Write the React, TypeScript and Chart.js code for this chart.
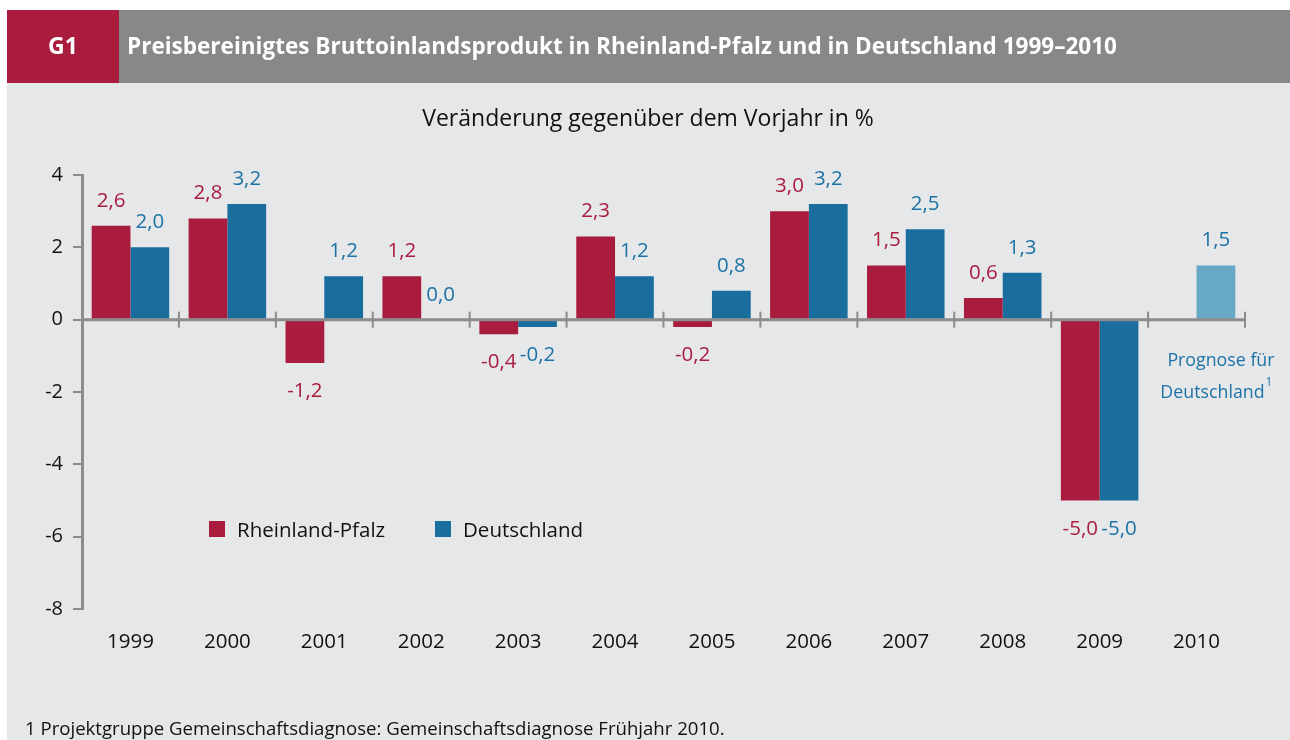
import { useEffect, useRef } from 'react';
import { Chart, registerables } from 'chart.js';

Chart.register(...registerables);

const years = ['1999', '2000', '2001', '2002', '2003', '2004', '2005', '2006', '2007', '2008', '2009', '2010'];
const rheinlandPfalz: (number | null)[] = [2.6, 2.8, -1.2, 1.2, -0.4, 2.3, -0.2, 3.0, 1.5, 0.6, -5.0, null];
const deutschland: number[] = [2.0, 3.2, 1.2, 0.0, -0.2, 1.2, 0.8, 3.2, 2.5, 1.3, -5.0, 1.5];
const yMin = -8;
const yMax = 4;
const yStep = 2;

const headerCode = 'G1';
const headerTitle = 'Preisbereinigtes Bruttoinlandsprodukt in Rheinland-Pfalz und in Deutschland 1999–2010';
const subTitle = 'Veränderung gegenüber dem Vorjahr in %';
const forecastLines = ['Prognose für', 'Deutschland'];
const footnote = '1 Projektgruppe Gemeinschaftsdiagnose: Gemeinschaftsdiagnose Frühjahr 2010.';

const RED = '#a91c3e';
const BLUE = '#196e9e';
const LIGHT_BLUE = '#66a8c5';
const BLUE_TEXT = '#1d73a6';
const AXIS = '#8c8c8c';
const BG = '#e6e7e9';
const HEADER_GRAY = '#87888a';
const FONT = '"Open Sans", "Noto Sans", sans-serif';

const fmt = (v: number) => v.toFixed(1).replace('.', ',');

const decorPlugin = {
  id: 'decor',
  beforeDraw(chart: any) {
    const ctx = chart.ctx;
    ctx.save();
    ctx.fillStyle = '#ffffff';
    ctx.fillRect(0, 0, chart.width, chart.height);
    ctx.fillStyle = BG;
    ctx.fillRect(7, 83, chart.width - 7, chart.height - 83);
    ctx.fillStyle = RED;
    ctx.fillRect(7, 10, 112, 73);
    ctx.fillStyle = HEADER_GRAY;
    ctx.fillRect(119, 10, chart.width - 119, 73);

    ctx.fillStyle = '#ffffff';
    ctx.font = `bold 23px ${FONT}`;
    ctx.textBaseline = 'alphabetic';
    ctx.textAlign = 'center';
    ctx.fillText(headerCode, 63, 54);
    ctx.textAlign = 'left';
    const w = ctx.measureText(headerTitle).width;
    const target = 990;
    ctx.save();
    ctx.translate(127, 54);
    ctx.scale(target / w, 1);
    ctx.fillText(headerTitle, 0, 0);
    ctx.restore();

    ctx.fillStyle = '#111111';
    ctx.font = `23px ${FONT}`;
    ctx.textAlign = 'center';
    ctx.fillText(subTitle, 648, 126);

    ctx.font = `18.6px ${FONT}`;
    ctx.textAlign = 'left';
    ctx.fillText(footnote, 25, 735);
    ctx.restore();
  },
};

const axisPlugin = {
  id: 'zeroAxis',
  afterDatasetsDraw(chart: any) {
    const ctx = chart.ctx;
    const xs = chart.scales.x;
    const ys = chart.scales.y;
    const area = chart.chartArea;
    const y0 = ys.getPixelForValue(0);
    ctx.save();
    ctx.strokeStyle = AXIS;
    ctx.lineWidth = 3;
    ctx.beginPath();
    ctx.moveTo(area.left, y0);
    ctx.lineTo(area.right, y0);
    ctx.stroke();
    ctx.lineWidth = 2;
    const n = years.length;
    for (let i = 1; i <= n; i++) {
      const x = i === n ? area.right : (xs.getPixelForValue(i - 1) + xs.getPixelForValue(i)) / 2;
      ctx.beginPath();
      ctx.moveTo(x, y0 - 8);
      ctx.lineTo(x, y0 + 8);
      ctx.stroke();
    }
    ctx.restore();
  },
};

const labelPlugin = {
  id: 'valueLabels',
  afterDatasetsDraw(chart: any) {
    const ctx = chart.ctx;
    ctx.save();
    ctx.font = `20.5px ${FONT}`;
    ctx.textAlign = 'center';
    ctx.textBaseline = 'alphabetic';
    chart.data.datasets.forEach((ds: any, di: number) => {
      const meta = chart.getDatasetMeta(di);
      meta.data.forEach((el: any, j: number) => {
        const v = ds.data[j];
        if (v === null || v === undefined) return;
        ctx.fillStyle = ds.labelColor;
        const y = v >= 0 ? el.y - 19 : el.y + 34;
        ctx.fillText(fmt(v), el.x, y);
      });
    });

    // legend
    const area = chart.chartArea;
    const lx = area.left + 127;
    ctx.textAlign = 'left';
    ctx.font = `20.5px ${FONT}`;
    const items = chart.data.datasets.map((ds: any) => ({ label: ds.label, color: ds.legendColor }));
    const offsets = [0, 226];
    items.forEach((it: any, k: number) => {
      const x = lx + offsets[k];
      ctx.fillStyle = it.color;
      ctx.fillRect(x, 521, 16, 16);
      ctx.fillStyle = '#111111';
      ctx.fillText(it.label, x + 28, 537);
    });

    // forecast note
    const xs = chart.scales.x;
    const xc = xs.getPixelForValue(years.length - 1);
    ctx.fillStyle = BLUE_TEXT;
    ctx.font = `17.8px ${FONT}`;
    ctx.textAlign = 'right';
    ctx.fillText(forecastLines[0], xc + 78, 366);
    ctx.fillText(forecastLines[1], xc + 68, 398);
    ctx.font = `12px ${FONT}`;
    ctx.textAlign = 'left';
    ctx.fillText('1', xc + 69, 386);
    ctx.restore();
  },
};

export default function App() {
  const ref = useRef<HTMLCanvasElement | null>(null);
  useEffect(() => {
    if (!ref.current) return;
    const chart = new Chart(ref.current, {
      type: 'bar',
      data: {
        labels: years,
        datasets: [
          {
            label: 'Rheinland-Pfalz',
            data: rheinlandPfalz,
            backgroundColor: RED,
            labelColor: RED,
            legendColor: RED,
          } as any,
          {
            label: 'Deutschland',
            data: deutschland,
            backgroundColor: deutschland.map((_, i) => (i === years.length - 1 ? LIGHT_BLUE : BLUE)),
            labelColor: BLUE_TEXT,
            legendColor: BLUE,
          } as any,
        ],
      },
      options: {
        animation: false,
        responsive: false,
        devicePixelRatio: 1,
        layout: { padding: { top: 175, right: 45, bottom: 0, left: 0 } },
        datasets: { bar: { categoryPercentage: 0.8, barPercentage: 1.0 } },
        plugins: { legend: { display: false }, title: { display: false }, tooltip: { enabled: false } },
        scales: {
          x: {
            grid: { display: false, drawTicks: false },
            border: { display: false },
            ticks: { color: '#111111', font: { family: FONT, size: 20.5 }, padding: 21, maxRotation: 0 },
            afterFit: (s: any) => { s.height = 131; },
          },
          y: {
            min: yMin,
            max: yMax,
            grid: { drawOnChartArea: false, drawTicks: true, tickLength: 9, color: AXIS, lineWidth: 2 },
            border: { display: true, color: AXIS, width: 3 },
            ticks: {
              stepSize: yStep,
              color: '#111111',
              font: { family: FONT, size: 20 },
              padding: 10,
              callback: (v: any) => String(v),
            },
            afterFit: (s: any) => { s.width = 82; },
          },
        },
      },
      plugins: [decorPlugin, axisPlugin, labelPlugin],
    });
    return () => chart.destroy();
  }, []);
  return (
    <div style={{ position: 'absolute', left: 0, top: 0, width: 1290, height: 740 }}>
      <canvas ref={ref} width={1290} height={740} style={{ display: 'block', width: 1290, height: 740 }} />
    </div>
  );
}
